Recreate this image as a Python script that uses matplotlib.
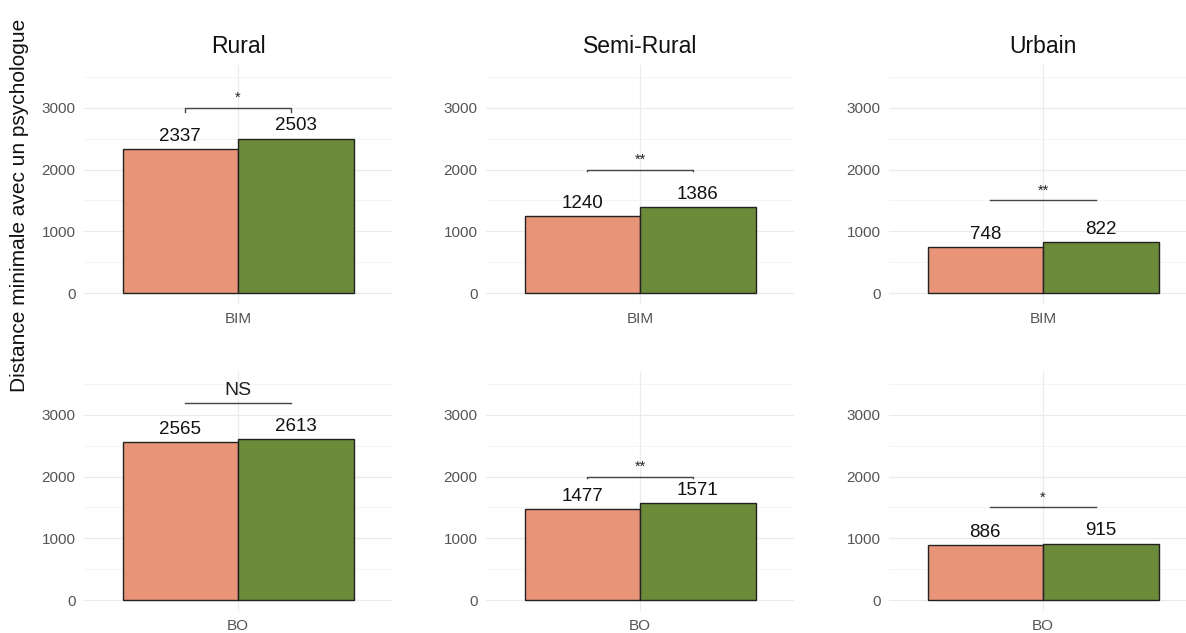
import matplotlib
matplotlib.use("Agg")
import matplotlib.pyplot as plt
from matplotlib.ticker import MultipleLocator

plt.rcParams['font.family'] = ['Liberation Sans', 'DejaVu Sans']

# Data
zones = ["Rural", "Semi-Rural", "Urbain"]
groups = ["BIM", "BO"]
series_a = {"BIM": [2337, 1240, 748], "BO": [2565, 1477, 886]}
series_b = {"BIM": [2503, 1386, 822], "BO": [2613, 1571, 915]}
sig_labels = {"BIM": ["*", "**", "**"], "BO": ["NS", "**", "*"]}
sig_heights = {"BIM": [3000, 2000, 1500], "BO": [3200, 2000, 1500]}
sig_tips = {"BIM": [70, 25, 0], "BO": [0, 25, 0]}

col_a = "#E89478"
col_b = "#6B8A3A"

W, H = 1186, 633
fig = plt.figure(figsize=(W / 100, H / 100), dpi=100)

ylo, yhi = -170, 3700
col_px = [(84, 392), (486, 794), (889, 1197)]
row_px = [(64.7, 303.5), (371.7, 610.5)]

bw = 0.45
for r, g in enumerate(groups):
    top_px, bot_px = row_px[r]
    for c, z in enumerate(zones):
        l_px, r_px = col_px[c]
        ax = fig.add_axes([l_px / W, (H - bot_px) / H, (r_px - l_px) / W, (bot_px - top_px) / H])
        ax.set_xlim(-0.6, 0.6)
        ax.set_ylim(ylo, yhi)
        for s in ax.spines.values():
            s.set_visible(False)
        ax.yaxis.set_major_locator(MultipleLocator(1000))
        ax.yaxis.set_minor_locator(MultipleLocator(500))
        ax.set_xticks([0])
        ax.set_xticklabels([g])
        ax.tick_params(axis='both', length=0, labelsize=11, colors="#555555", pad=6)
        ax.tick_params(axis='y', which='minor', length=0)
        ax.grid(True, which='major', color="#EBEBEB", lw=0.9)
        ax.grid(True, which='minor', axis='y', color="#F3F3F3", lw=0.6)
        ax.set_axisbelow(True)

        va, vb = series_a[g][c], series_b[g][c]
        ax.bar(-bw / 2, va, width=bw, color=col_a, edgecolor="#222222", lw=1.0, zorder=3)
        ax.bar(bw / 2, vb, width=bw, color=col_b, edgecolor="#222222", lw=1.0, zorder=3)
        for x, v in [(-bw / 2, va), (bw / 2, vb)]:
            ax.annotate(str(v), (x, v), xytext=(0, 3), textcoords='offset points',
                        ha='center', va='bottom', fontsize=13.5, color="#111111", zorder=4)

        # significance bracket
        yb = sig_heights[g][c]
        tip = sig_tips[g][c]
        x0, x1 = -0.205, 0.205
        ax.plot([x0, x0, x1, x1], [yb - tip, yb, yb, yb - tip], color="#444444", lw=1.0, zorder=4)
        lab = sig_labels[g][c]
        fs = 14 if lab == "NS" else 10.5
        ax.text(0, yb + 50, lab, ha='center', va='bottom', fontsize=fs, color="#222222", zorder=4)

        if r == 0:
            ax.set_title(z, fontsize=16.5, color="#111111", pad=8.5)

fig.text(20 / W, 1 - 205 / H, "Distance minimale avec un psychologue", rotation=90,
         ha='center', va='center', fontsize=15, color="#111111")

fig.savefig("out.png", dpi=100, facecolor="white")
